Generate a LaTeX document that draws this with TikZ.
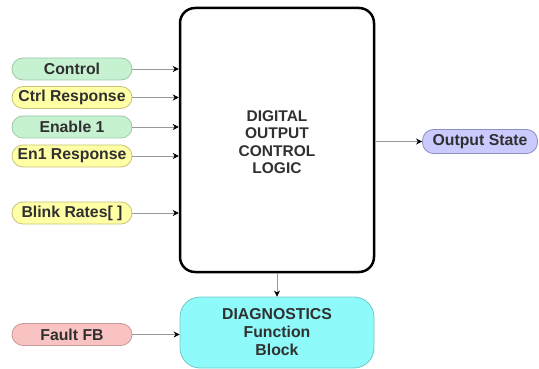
\documentclass[tikz,border=0pt]{standalone}
\usepackage{fontspec}
\setmainfont{Liberation Sans}
\usetikzlibrary{arrows.meta}
\definecolor{gfill}{HTML}{C6F2D2}
\definecolor{gline}{HTML}{9CC8A8}
\definecolor{yfill}{HTML}{FFFFA6}
\definecolor{yline}{HTML}{C8C27A}
\definecolor{pfill}{HTML}{F9C3C3}
\definecolor{pline}{HTML}{C89A9A}
\definecolor{lfill}{HTML}{CACAFF}
\definecolor{lline}{HTML}{8E8EC0}
\definecolor{cfill}{HTML}{8FFAFA}
\definecolor{cline}{HTML}{70C8C8}
\definecolor{txt}{HTML}{303030}
\tikzset{
  pill/.style={draw, line width=0.8pt, rounded corners=11pt, minimum width=120pt, minimum height=22pt, inner sep=0pt, text=txt, font=\bfseries\fontsize{15.8}{18}\selectfont},
  gpill/.style={pill, fill=gfill, draw=gline},
  ypill/.style={pill, fill=yfill, draw=yline},
  ppill/.style={pill, fill=pfill, draw=pline},
  lpill/.style={pill, fill=lfill, draw=lline},
  mainbox/.style={draw=black, line width=2.5pt, rounded corners=15pt, fill=white, minimum width=194pt, minimum height=264pt, align=center, text=txt, font=\bfseries\fontsize{15.5}{17.5}\selectfont},
  diagbox/.style={draw=cline, line width=0.8pt, rounded corners=20pt, fill=cfill, minimum width=194pt, minimum height=71pt, align=center, text=txt, font=\bfseries\fontsize{15.8}{18}\selectfont},
  conn/.style={draw=gray!80, line width=0.7pt, -{Stealth[length=6pt,width=6pt,color=black]}}
}
\begin{document}
\begin{tikzpicture}[x=1pt,y=-1pt]
\useasboundingbox (0,0) rectangle (539,369);
\node[mainbox] (main) at (277,140) {};
\node[text=txt, align=center, font=\bfseries\fontsize{15.5}{17.5}\selectfont] (maintext) at (277,142) {DIGITAL\\OUTPUT\\CONTROL\\LOGIC};
\node[diagbox] (diag) at (277,332.5) {DIAGNOSTICS\\Function\\Block};
\node[gpill] (ctrl) at (72,69) {Control};
\node[ypill] (ctrlr) at (72,97.5) {Ctrl Response};
\node[gpill] (en1) at (72,127) {Enable 1};
\node[ypill] (en1r) at (72,156) {En1 Response};
\node[ypill] (blink) at (72,213) {Blink Rates[ ]};
\node[ppill] (fault) at (72,334.5) {Fault FB};
\node[lpill, minimum width=115pt, minimum height=24pt] (out) at (480,141.5) {Output State};
\foreach \n in {ctrl,ctrlr,en1,en1r,blink}{
  \draw[conn] (\n.east) -- (main.west |- \n.east);
}
\draw[conn] (main.east |- out.west) -- (out.west);
\draw[conn] (main.south) -- (diag.north);
\draw[conn] (fault.east) -- (diag.west |- fault.east);
\end{tikzpicture}
\end{document}
